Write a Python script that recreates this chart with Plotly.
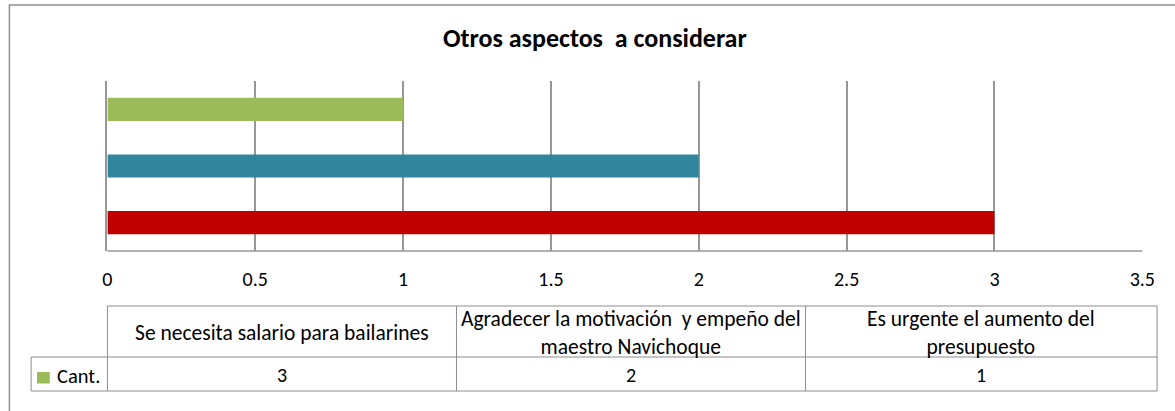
import plotly.graph_objects as go

# Chart data
title = "Otros aspectos  a considerar"
series_name = "Cant."
categories = [
    "Se necesita salario para bailarines",
    "Agradecer la motivación  y empeño del<br>maestro Navichoque",
    "Es urgente el aumento del<br>presupuesto",
]
values = [3, 2, 1]
bar_colors = ["#C00000", "#31859C", "#9BBB59"]
legend_color = "#9BBB59"
x_ticks = [0, 0.5, 1, 1.5, 2, 2.5, 3, 3.5]

W, H = 1175, 411
FONT = "Carlito, Calibri, Lato, sans-serif"
GRID = "#979797"
TABLE = "#8c8c8c"

# Layout geometry in pixels
PLOT_L, PLOT_R = 104.0, 1155.0
PLOT_T, PLOT_B = 81.0, 251.0
COL_EDGES = [104.0, 458.5, 813.0, 1170.0]
LEGEND_L = 26.5
ROW_TOP, ROW_MID, ROW_BOT = 306.0, 357.0, 391.0


def px(x):
    return x / W


def py(y):
    return 1 - y / H


fig = go.Figure()
fig.add_trace(go.Bar(
    x=values,
    y=categories,
    orientation="h",
    marker=dict(color=bar_colors, line=dict(width=0)),
    width=0.41,
    name=series_name,
    showlegend=False,
    hoverinfo="x+y",
))

shapes = []
annotations = []

# Outer chart border
shapes.append(dict(type="rect", xref="paper", yref="paper",
                   x0=px(4.5), x1=px(1195), y0=py(430), y1=py(5),
                   line=dict(color="#8f8f8f", width=1.5)))


def hline(x0, x1, y):
    shapes.append(dict(type="line", xref="paper", yref="paper",
                       x0=px(x0), x1=px(x1), y0=py(y), y1=py(y),
                       line=dict(color=TABLE, width=1)))


def vline(x, y0, y1):
    shapes.append(dict(type="line", xref="paper", yref="paper",
                       x0=px(x), x1=px(x), y0=py(y0), y1=py(y1),
                       line=dict(color=TABLE, width=1)))


# Data table grid
hline(COL_EDGES[0], COL_EDGES[-1], ROW_TOP)
hline(LEGEND_L, COL_EDGES[-1], ROW_MID)
hline(LEGEND_L, COL_EDGES[-1], ROW_BOT)
vline(LEGEND_L, ROW_MID, ROW_BOT)
for x in COL_EDGES:
    vline(x, ROW_TOP, ROW_BOT)

# Category headers and values in the table
for i, (cat, val) in enumerate(zip(categories, values)):
    cx = (COL_EDGES[i] + COL_EDGES[i + 1]) / 2
    annotations.append(dict(xref="paper", yref="paper", x=px(cx), y=py((ROW_TOP + ROW_MID) / 2 + 1),
                            text=cat, showarrow=False, xanchor="center", yanchor="middle",
                            font=dict(family=FONT, size=21.5, color="#000000")))
    annotations.append(dict(xref="paper", yref="paper", x=px(cx), y=py((ROW_MID + ROW_BOT) / 2 + 1),
                            text=str(val), showarrow=False, xanchor="center", yanchor="middle",
                            font=dict(family=FONT, size=20, color="#000000")))

# Legend key in the table
shapes.append(dict(type="rect", xref="paper", yref="paper",
                   x0=px(32.5), x1=px(45.5), y0=py(383.5), y1=py(372),
                   fillcolor=legend_color, line=dict(width=0)))
annotations.append(dict(xref="paper", yref="paper", x=px(50.5), y=py(375.5),
                        text=series_name, showarrow=False, xanchor="left", yanchor="middle",
                        font=dict(family=FONT, size=20.5, color="#000000")))

# Title
annotations.append(dict(xref="paper", yref="paper", x=px(599), y=py(38.5),
                        text="<b>" + title + "</b>", showarrow=False,
                        xanchor="center", yanchor="middle",
                        font=dict(family=FONT, size=26, color="#000000")))

# Horizontal category axis line along the bottom of the plot area
shapes.append(dict(type="line", xref="paper", yref="paper",
                   x0=px(PLOT_L), x1=px(PLOT_R), y0=py(PLOT_B), y1=py(PLOT_B),
                   line=dict(color=GRID, width=1.5)))

fig.update_layout(
    width=W, height=H,
    autosize=False,
    margin=dict(l=0, r=0, t=0, b=0, pad=0),
    paper_bgcolor="white",
    plot_bgcolor="white",
    shapes=shapes,
    annotations=annotations,
    xaxis=dict(
        domain=[px(PLOT_L), px(PLOT_R)],
        range=[0, 3.5],
        tickvals=x_ticks,
        ticktext=[f"{t:g}" for t in x_ticks],
        showgrid=True, gridcolor=GRID, gridwidth=1.5,
        zeroline=False,
        showline=False,
        ticks="",
        ticklabelstandoff=14,
        tickfont=dict(family=FONT, size=20, color="#000000"),
        fixedrange=True,
    ),
    yaxis=dict(
        domain=[py(PLOT_B), py(PLOT_T)],
        showticklabels=False,
        showgrid=False,
        zeroline=False,
        showline=True, linecolor=GRID, linewidth=1.5,
        ticks="",
        fixedrange=True,
    ),
    showlegend=False,
)

fig.write_html(
    "out.html",
    config={"displayModeBar": False, "responsive": False},
    post_script="document.body.style.margin='0';document.body.style.overflow='hidden';",
)
